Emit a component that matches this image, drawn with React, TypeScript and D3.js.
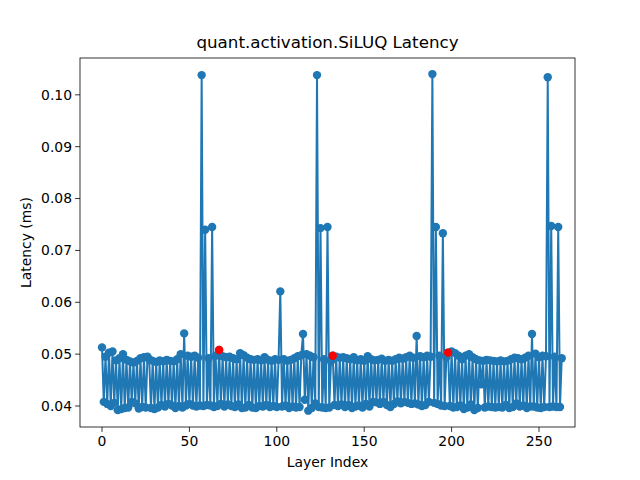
import React from "react";
import * as d3 from "d3";

const latency: number[] = [
  0.0513, 0.0408, 0.0495, 0.0404, 0.0503, 0.0400, 0.0505, 0.0406, 0.0488, 0.0392,
  0.0492, 0.0394, 0.0500, 0.0396, 0.0489, 0.0397, 0.0486, 0.0408, 0.0484, 0.0405,
  0.0487, 0.0395, 0.0492, 0.0398, 0.0494, 0.0397, 0.0495, 0.0490, 0.0396, 0.0487,
  0.0394, 0.0485, 0.0397, 0.0488, 0.0402, 0.0486, 0.0399, 0.0489, 0.0404, 0.0487,
  0.0401, 0.0486, 0.0396, 0.0490, 0.0400, 0.0500, 0.0397, 0.0540, 0.0401, 0.0497,
  0.0404, 0.0495, 0.0401, 0.0497, 0.0399, 0.0493, 0.0401, 0.1038, 0.0400, 0.0740,
  0.0402, 0.0492, 0.0401, 0.0745, 0.0398, 0.0497, 0.0400, 0.0508, 0.0404, 0.0496,
  0.0399, 0.0494, 0.0403, 0.0495, 0.0400, 0.0492, 0.0398, 0.0490, 0.0403, 0.0502,
  0.0396, 0.0498, 0.0397, 0.0493, 0.0402, 0.0490, 0.0397, 0.0489, 0.0396, 0.0490,
  0.0400, 0.0488, 0.0399, 0.0494, 0.0402, 0.0489, 0.0398, 0.0487, 0.0400, 0.0490,
  0.0398, 0.0489, 0.0621, 0.0399, 0.0490, 0.0401, 0.0487, 0.0396, 0.0489, 0.0399,
  0.0492, 0.0397, 0.0496, 0.0398, 0.0498, 0.0539, 0.0412, 0.0500, 0.0391, 0.0497,
  0.0396, 0.0494, 0.0405, 0.1038, 0.0398, 0.0743, 0.0397, 0.0490, 0.0396, 0.0745,
  0.0397, 0.0486, 0.0497, 0.0402, 0.0495, 0.0400, 0.0493, 0.0403, 0.0494, 0.0398,
  0.0492, 0.0402, 0.0490, 0.0396, 0.0494, 0.0399, 0.0488, 0.0401, 0.0490, 0.0397,
  0.0487, 0.0404, 0.0496, 0.0399, 0.0490, 0.0408, 0.0488, 0.0407, 0.0489, 0.0404,
  0.0491, 0.0408, 0.0487, 0.0402, 0.0489, 0.0398, 0.0487, 0.0404, 0.0490, 0.0409,
  0.0493, 0.0405, 0.0491, 0.0408, 0.0494, 0.0406, 0.0497, 0.0404, 0.0493, 0.0405,
  0.0535, 0.0403, 0.0496, 0.0400, 0.0494, 0.0402, 0.0497, 0.0408, 0.0495, 0.1040,
  0.0406, 0.0745, 0.0404, 0.0497, 0.0401, 0.0733, 0.0400, 0.0494, 0.0503, 0.0400,
  0.0505, 0.0397, 0.0502, 0.0398, 0.0497, 0.0401, 0.0490, 0.0394, 0.0497, 0.0397,
  0.0500, 0.0403, 0.0494, 0.0392, 0.0490, 0.0396, 0.0488, 0.0442, 0.0487, 0.0397,
  0.0489, 0.0399, 0.0488, 0.0398, 0.0487, 0.0397, 0.0486, 0.0398, 0.0488, 0.0397,
  0.0486, 0.0402, 0.0487, 0.0396, 0.0490, 0.0398, 0.0493, 0.0405, 0.0492, 0.0399,
  0.0490, 0.0401, 0.0493, 0.0396, 0.0497, 0.0399, 0.0539, 0.0399, 0.0501, 0.0397,
  0.0494, 0.0396, 0.0497, 0.0398, 0.0496, 0.1034, 0.0398, 0.0747, 0.0399, 0.0495,
  0.0398, 0.0745, 0.0398, 0.0492,
];
const highlighted: number[] = [67, 132, 198];
const xTicks: number[] = [0, 50, 100, 150, 200, 250];
const yTicks: number[] = [0.04, 0.05, 0.06, 0.07, 0.08, 0.09, 0.1];

const W = 640;
const H = 480;
const m = { left: 80, right: 65, top: 58, bottom: 53 };
const font = "DejaVu Sans, sans-serif";
const blue = "#1f77b4";

export default function App() {
  const x = d3.scaleLinear().domain([-12.6, 270.6]).range([m.left, W - m.right]);
  const y = d3.scaleLinear().domain([0.03595, 0.1071]).range([H - m.bottom, m.top]);
  const line = d3
    .line<number>()
    .x((_, i) => x(i))
    .y((d) => y(d));

  return (
    <svg width={W} height={H} style={{ position: "absolute", left: 0, top: 0, background: "#fff" }} fontFamily={font}>
      <rect x={0} y={0} width={W} height={H} fill="#fff" />
      <text x={(m.left + W - m.right) / 2} y={48} textAnchor="middle" fontSize={16.7}>
        quant.activation.SiLUQ Latency
      </text>
      <path d={line(latency) ?? ""} fill="none" stroke={blue} strokeWidth={2} />
      {latency.map((v, i) => (
        <circle key={i} cx={x(i)} cy={y(v)} r={4.2} fill={blue} />
      ))}
      {highlighted.map((i) => (
        <circle key={"r" + i} cx={x(i)} cy={y(latency[i])} r={4.2} fill="red" />
      ))}
      <rect
        x={m.left}
        y={m.top}
        width={W - m.left - m.right}
        height={H - m.top - m.bottom}
        fill="none"
        stroke="#000"
        strokeWidth={0.8}
      />
      {xTicks.map((t) => (
        <g key={t} transform={`translate(${x(t)},${H - m.bottom})`}>
          <line y2={4.9} stroke="#000" strokeWidth={0.8} />
          <text y={19} textAnchor="middle" fontSize={13.9}>
            {t}
          </text>
        </g>
      ))}
      {yTicks.map((t) => (
        <g key={t} transform={`translate(${m.left},${y(t)})`}>
          <line x2={-4.9} stroke="#000" strokeWidth={0.8} />
          <text x={-8} dy="0.35em" textAnchor="end" fontSize={13.9}>
            {t.toFixed(2)}
          </text>
        </g>
      ))}
      <text x={(m.left + W - m.right) / 2} y={467} textAnchor="middle" fontSize={13.9}>
        Layer Index
      </text>
      <text transform={`translate(31,${(m.top + H - m.bottom) / 2}) rotate(-90)`} textAnchor="middle" fontSize={13.9}>
        Latency (ms)
      </text>
    </svg>
  );
}
